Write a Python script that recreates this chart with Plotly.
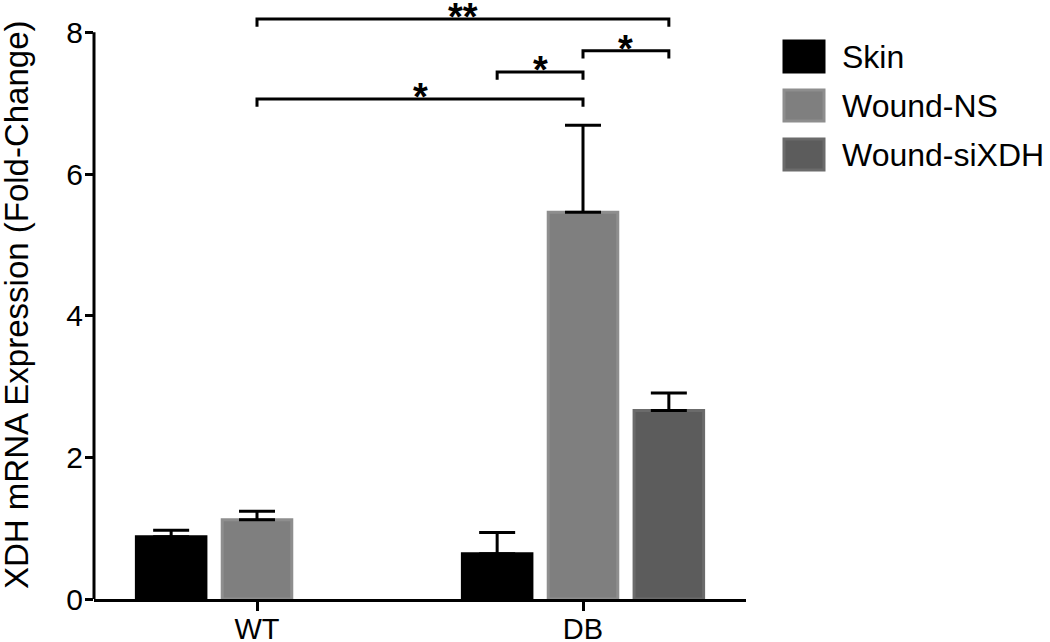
import plotly.graph_objects as go

# ---------------- data ----------------
groups = ["WT", "DB"]
series_names = ["Skin", "Wound-NS", "Wound-siXDH"]
skin_mean = [0.88, 0.64]
skin_err = [0.09, 0.30]
ns_mean = [1.12, 5.46]
ns_err = [0.12, 1.23]
sixdh_mean = [None, 2.66]
sixdh_err = [None, 0.25]

# significance comparisons: (group_a, series_a, group_b, series_b, height, label)
comp_left = [("WT", "Wound-NS"), ("DB", "Wound-NS"), ("DB", "Skin"), ("WT", "Wound-NS")]
comp_right = [("DB", "Wound-siXDH"), ("DB", "Wound-siXDH"), ("DB", "Wound-NS"), ("DB", "Wound-NS")]
comp_height = [8.19, 7.74, 7.44, 7.06]
comp_label = ["**", "*", "*", "*"]

y_ticks = [0, 2, 4, 6, 8]
y_title = "XDH mRNA Expression (Fold-Change)"

# ---------------- style ----------------
fills = ["#000000", "#7f7f7f", "#5c5c5c"]
edges = ["#000000", "#8e8e8e", "#6b6b6b"]
W, H = 1050, 642
ML, MR, MT, MB = 94, 304, 4, 43
BARGAP = 0.21
BARGROUPGAP = 0.19
FONT = "Liberation Sans, Arial, sans-serif"

means = [skin_mean, ns_mean, sixdh_mean]
errs = [skin_err, ns_err, sixdh_err]

fig = go.Figure()
for i, name in enumerate(series_names):
    fig.add_trace(go.Bar(
        name=name, x=groups, y=means[i],
        marker=dict(color=fills[i], line=dict(color=edges[i], width=3)),
        error_y=dict(type="data", symmetric=False, array=errs[i],
                     arrayminus=[0 if v is not None else None for v in errs[i]],
                     color="#000000", thickness=3, width=18),
        showlegend=False,
    ))

slot = (1 - BARGAP) / len(series_names)


def bar_x(group, series):
    return groups.index(group) + (series_names.index(series) - 1) * slot


drop = 0.11
for (ga, sa), (gb, sb), h, lab in zip(comp_left, comp_right, comp_height, comp_label):
    x0, x1 = bar_x(ga, sa), bar_x(gb, sb)
    fig.add_shape(type="path",
                  path=f"M {x0},{h - drop} L {x0},{h} L {x1},{h} L {x1},{h - drop}",
                  xref="x", yref="y", line=dict(color="#000000", width=3))
    fig.add_annotation(x=(x0 + x1) / 2, y=h, xref="x", yref="y", text=f"<b>{lab}</b>",
                       showarrow=False, yanchor="bottom", yshift=-20, borderpad=0,
                       font=dict(family=FONT, size=38, color="#000000"))

# y axis line from 0 to 8 only
fig.add_shape(type="line", xref="paper", yref="y", x0=0, x1=0, y0=0, y1=max(y_ticks),
              line=dict(color="#000000", width=3))

# pixel -> paper helpers
pw = W - ML - MR
ph = H - MT - MB


def px_x(p):
    return (p - ML) / pw


def px_y(p):
    return (H - MB - p) / ph


# y-axis title
fig.add_annotation(xref="paper", yref="paper", x=px_x(16), y=px_y(305), text=y_title,
                   textangle=-90, showarrow=False, xanchor="center", yanchor="middle",
                   font=dict(family=FONT, size=33, color="#000000"))

# manual legend (large swatches)
leg_top = 41
leg_step = 49
for i, name in enumerate(series_names):
    top = leg_top + i * leg_step
    fig.add_shape(type="rect", xref="paper", yref="paper",
                  x0=px_x(784), x1=px_x(824), y0=px_y(top + 31), y1=px_y(top),
                  fillcolor=fills[i], line=dict(color=edges[i], width=3))
    fig.add_annotation(xref="paper", yref="paper", x=px_x(840), y=px_y(top + 16),
                       text=name, showarrow=False, xanchor="left", yanchor="middle",
                       font=dict(family=FONT, size=32, color="#000000"))

fig.update_layout(
    width=W, height=H,
    margin=dict(l=ML, r=MR, t=MT, b=MB, autoexpand=False),
    paper_bgcolor="#ffffff", plot_bgcolor="#ffffff",
    barmode="group", bargap=BARGAP, bargroupgap=BARGROUPGAP,
    font=dict(family=FONT, color="#000000"),
    showlegend=False,
    xaxis=dict(type="category", range=[-0.5, 1.5], showline=True, linecolor="#000000",
               linewidth=3, ticks="outside", ticklen=9, tickwidth=3, tickcolor="#000000",
               tickfont=dict(size=29), showgrid=False, zeroline=False, fixedrange=True,
               automargin=False, ticklabelstandoff=-7),
    yaxis=dict(range=[0, 8.4], tickvals=y_ticks, showline=False, ticks="outside",
               ticklen=8, tickwidth=3, tickcolor="#000000", tickfont=dict(size=30),
               showgrid=False, zeroline=False, automargin=False, ticklabelstandoff=-4,
               fixedrange=True),
)

fig.write_html("out.html", config={"displayModeBar": False},
               post_script="document.body.style.margin='0';")
